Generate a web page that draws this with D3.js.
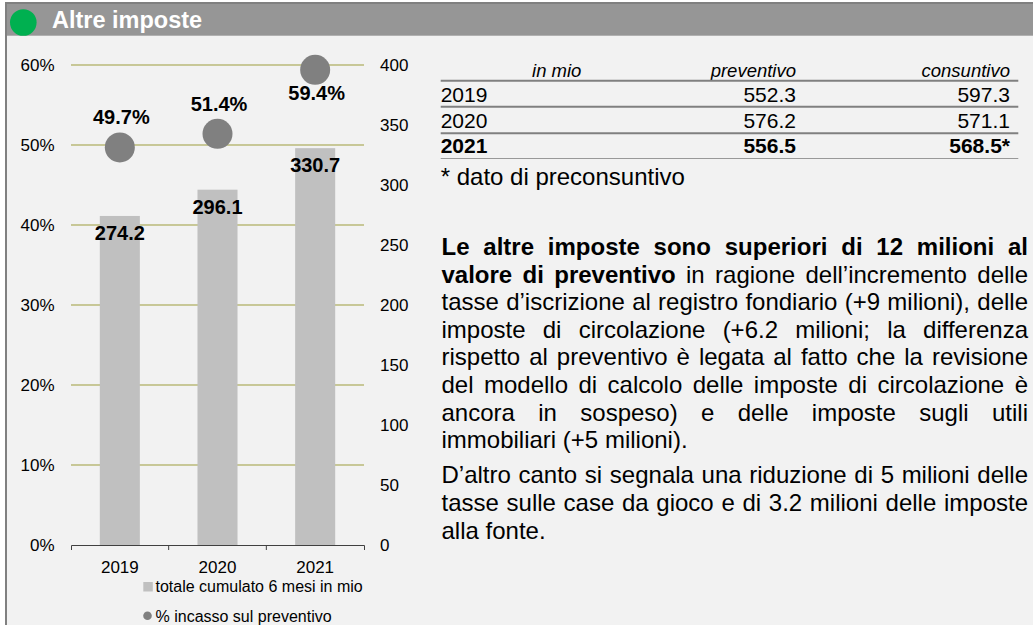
<!DOCTYPE html>
<html>
<head>
<meta charset="utf-8">
<script src="https://cdn.jsdelivr.net/npm/d3@7"></script>
<style>
  html, body { margin: 0; padding: 0; background: #fff; }
  svg { display: block; font-family: "Liberation Sans", Arial, sans-serif; }
</style>
</head>
<body>
<div id="viz"></div>
<script>
const title = 'Altre imposte';

// chart data
const years = ['2019', '2020', '2021'];
const totals = [274.2, 296.1, 330.7];
const pctIncasso = [49.7, 51.4, 59.4];
const pctTicks = [0, 10, 20, 30, 40, 50, 60];
const valTicks = [0, 50, 100, 150, 200, 250, 300, 350, 400];
const legendLabels = ['totale cumulato 6 mesi in mio', '% incasso sul preventivo'];

// table data
const tableHeader = ['in mio', 'preventivo', 'consuntivo'];
const tableYears = ['2019', '2020', '2021'];
const tablePreventivo = [552.3, 576.2, 556.5];
const tableConsuntivo = [597.3, 571.1, 568.5];
const footnote = '* dato di preconsuntivo';

// testo: ogni riga = lista di [testo, grassetto]
const paragraphs = [
  [
    [['Le altre imposte sono superiori di 12 milioni al', true]],
    [['valore di preventivo', true], ['in ragione dell’incremento delle', false]],
    [['tasse d’iscrizione al registro fondiario (+9 milioni), delle', false]],
    [['imposte di circolazione (+6.2 milioni; la differenza', false]],
    [['rispetto al preventivo è legata al fatto che la revisione', false]],
    [['del modello di calcolo delle imposte di circolazione è', false]],
    [['ancora in sospeso) e delle imposte sugli utili', false]],
    [['immobiliari (+5 milioni).', false]]
  ],
  [
    [['D’altro canto si segnala una riduzione di 5 milioni delle', false]],
    [['tasse sulle case da gioco e di 3.2 milioni delle imposte', false]],
    [['alla fonte.', false]]
  ]
];

const W = 1033, H = 625;
const svg = d3.select('#viz').append('svg')
  .attr('width', W)
  .attr('height', H);

// CORNICE + TITOLO
svg.append('rect')
  .attr('x', 6).attr('y', 3)
  .attr('width', W + 20).attr('height', H + 20)
  .attr('fill', '#f2f2f2')
  .attr('stroke', '#808080')
  .attr('stroke-width', 2);

svg.append('rect')
  .attr('x', 7).attr('y', 4)
  .attr('width', W).attr('height', 31.7)
  .attr('fill', '#969696');

svg.append('circle')
  .attr('cx', 23.3).attr('cy', 22.5).attr('r', 13.3)
  .attr('fill', '#00b050');

svg.append('text')
  .attr('x', 52).attr('y', 27.5)
  .attr('font-size', '23.5px')
  .attr('font-weight', 'bold')
  .attr('fill', '#fff')
  .text(title);

// GRAFICO
const x = d3.scaleBand().domain(years).range([71, 364]);
const yPct = d3.scaleLinear().domain([0, 60]).range([545, 65]);
const yVal = d3.scaleLinear().domain([0, 400]).range([545, 65]);
const barW = x.bandwidth() * 0.41;

const chart = svg.append('g');

chart.selectAll('.grid')
  .data(pctTicks.filter(d => d > 0))
  .join('line')
  .attr('x1', x.range()[0]).attr('x2', x.range()[1])
  .attr('y1', d => yPct(d)).attr('y2', d => yPct(d))
  .attr('stroke', '#9d9d3c')
  .attr('stroke-width', 1);

chart.selectAll('.bar')
  .data(years)
  .join('rect')
  .attr('x', d => x(d) + x.bandwidth() / 2 - barW / 2)
  .attr('y', (d, i) => yVal(totals[i]))
  .attr('width', barW)
  .attr('height', (d, i) => yVal(0) - yVal(totals[i]))
  .attr('fill', '#c0c0c0');

// asse x
const xAxis = chart.append('g')
  .attr('transform', `translate(0,${yVal(0)})`)
  .call(d3.axisBottom(x).tickSizeInner(0).tickSizeOuter(5));
xAxis.select('.domain').attr('stroke', '#404040');
xAxis.selectAll('text')
  .attr('dy', null)
  .attr('y', 27.7)
  .attr('font-size', '17px')
  .attr('font-family', '"Liberation Sans", Arial, sans-serif')
  .attr('fill', '#000');
xAxis.selectAll('.boundary')
  .data(years.slice(1))
  .join('line')
  .attr('x1', d => x(d)).attr('x2', d => x(d))
  .attr('y1', 0).attr('y2', 5)
  .attr('stroke', '#404040');

// asse sinistro (%)
const leftAxis = chart.append('g')
  .attr('transform', `translate(${x.range()[0]},0)`)
  .call(d3.axisLeft(yPct).tickValues(pctTicks).tickSize(0).tickPadding(16.5)
    .tickFormat(d => d + '%'));
leftAxis.select('.domain').remove();

// asse destro (mio)
const rightAxis = chart.append('g')
  .attr('transform', `translate(${x.range()[1]},0)`)
  .call(d3.axisRight(yVal).tickValues(valTicks).tickSize(0).tickPadding(16));
rightAxis.select('.domain').remove();

[leftAxis, rightAxis].forEach(a => a.selectAll('text')
  .attr('font-size', '17px')
  .attr('font-family', '"Liberation Sans", Arial, sans-serif')
  .attr('fill', '#000'));

// etichette barre
chart.selectAll('.barLabel')
  .data(years)
  .join('text')
  .attr('x', d => x(d) + x.bandwidth() / 2)
  .attr('y', (d, i) => yVal(totals[i]) + 24)
  .attr('text-anchor', 'middle')
  .attr('font-size', '20px')
  .attr('font-weight', 'bold')
  .text((d, i) => totals[i].toFixed(1));

// punti %
chart.selectAll('.dot')
  .data(years)
  .join('circle')
  .attr('cx', d => x(d) + x.bandwidth() / 2)
  .attr('cy', (d, i) => yPct(pctIncasso[i]))
  .attr('r', 15)
  .attr('fill', '#808080');

chart.selectAll('.dotLabel')
  .data(years)
  .join('text')
  .attr('x', d => x(d) + x.bandwidth() / 2 + 1.5)
  .attr('y', (d, i) => yPct(pctIncasso[i]) + (pctIncasso[i] > 55 ? 30.5 : -23))
  .attr('text-anchor', 'middle')
  .attr('font-size', '20px')
  .attr('font-weight', 'bold')
  .text((d, i) => pctIncasso[i].toFixed(1) + '%');

// legenda
const legend = svg.append('g').attr('font-size', '16px');
legend.append('rect')
  .attr('x', 143.3).attr('y', 582)
  .attr('width', 9.5).attr('height', 9.5)
  .attr('fill', '#c0c0c0');
legend.append('circle')
  .attr('cx', 147.5).attr('cy', 615.8).attr('r', 4.3)
  .attr('fill', '#808080');
legend.selectAll('.legText')
  .data(legendLabels)
  .join('text')
  .attr('x', 155.5)
  .attr('y', (d, i) => 592.3 + i * 29.2)
  .text(d => d);

// TABELLA
const table = svg.append('g');
const colRight = [796, 1010];
const tLeft = 440.7, tRight = 1018.3;

table.append('text')
  .attr('x', 556.7).attr('y', 76.7)
  .attr('text-anchor', 'middle')
  .attr('font-size', '18.5px')
  .attr('font-style', 'italic')
  .text(tableHeader[0]);
table.selectAll('.colHead')
  .data(tableHeader.slice(1))
  .join('text')
  .attr('x', (d, i) => colRight[i]).attr('y', 76.7)
  .attr('text-anchor', 'end')
  .attr('font-size', '18.5px')
  .attr('font-style', 'italic')
  .text(d => d);

const rowBase = [101.7, 127.7, 152.7];
const rowLines = [80.7, 106.7, 133.3];
table.selectAll('.rowLine')
  .data(rowLines)
  .join('line')
  .attr('x1', tLeft).attr('x2', tRight)
  .attr('y1', d => d).attr('y2', d => d)
  .attr('stroke', '#808080')
  .attr('stroke-width', 2);
table.append('line')
  .attr('x1', tLeft).attr('x2', tRight)
  .attr('y1', 158.5).attr('y2', 158.5)
  .attr('stroke', '#999')
  .attr('stroke-width', 1);

const fmt = d3.format('.1f');
tableYears.forEach((yr, i) => {
  const last = i === tableYears.length - 1;
  const row = table.append('g')
    .attr('font-size', '21px')
    .attr('font-weight', last ? 'bold' : 'normal');
  row.append('text').attr('x', tLeft).attr('y', rowBase[i]).text(yr);
  row.append('text').attr('x', colRight[0]).attr('y', rowBase[i])
    .attr('text-anchor', 'end').text(fmt(tablePreventivo[i]));
  row.append('text').attr('x', colRight[1]).attr('y', rowBase[i])
    .attr('text-anchor', 'end').text(fmt(tableConsuntivo[i]) + (last ? '*' : ''));
});

svg.append('text')
  .attr('x', tLeft).attr('y', 185)
  .attr('font-size', '24px')
  .text(footnote);

// TESTO GIUSTIFICATO
const pLeft = 441.5, pRight = 1028, fs = 24, lineH = 27.6;
const meas = svg.append('text').attr('font-size', fs + 'px').attr('visibility', 'hidden');
const measure = (s, bold) => {
  meas.attr('font-weight', bold ? 'bold' : 'normal').text(s);
  return meas.node().getComputedTextLength();
};
const spaceW = measure('a a', false) - measure('aa', false);

const textG = svg.append('g').attr('font-size', fs + 'px');
let baseY = 255;
paragraphs.forEach(lines => {
  lines.forEach((runs, li) => {
    const words = runs.flatMap(([t, b]) => t.split(' ').filter(w => w).map(w => ({ w, b })));
    words.forEach(o => { o.len = measure(o.w, o.b); });
    const total = d3.sum(words, o => o.len);
    const justify = li < lines.length - 1;
    const gap = justify && words.length > 1
      ? (pRight - pLeft - total) / (words.length - 1)
      : spaceW;
    let cx = pLeft;
    words.forEach(o => {
      textG.append('text')
        .attr('x', cx).attr('y', baseY)
        .attr('font-weight', o.b ? 'bold' : 'normal')
        .text(o.w);
      cx += o.len + gap;
    });
    baseY += lineH;
  });
  baseY += 7.5;
});
meas.remove();
</script>
</body>
</html>
